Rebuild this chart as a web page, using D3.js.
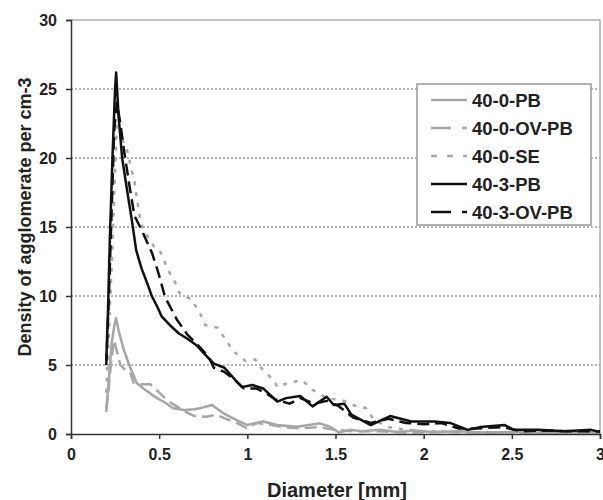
<!DOCTYPE html>
<html><head><meta charset="utf-8">
<script src="https://cdn.jsdelivr.net/npm/d3@7"></script>
<style>body{margin:0;background:#fff}svg{display:block}</style>
</head><body>
<svg id="c" width="603" height="500"></svg>
<script>
const xTicks = [0, 0.5, 1, 1.5, 2, 2.5, 3];
const xTickLabels = ["0", "0.5", "1", "1.5", "2", "2.5", "3"];
const yTicks = [0, 5, 10, 15, 20, 25, 30];
const yTickLabels = ["0", "5", "10", "15", "20", "25", "30"];
const seriesNames = ["40-0-PB", "40-0-OV-PB", "40-0-SE", "40-3-PB", "40-3-OV-PB"];

const s40_0_PB = [[0.2,1.6],[0.215,4],[0.23,6.5],[0.245,7.8],[0.256,8.4],[0.27,7.5],[0.297,6.2],[0.33,5],[0.373,3.7],[0.42,3.2],[0.487,2.6],[0.53,2.3],[0.58,1.86],[0.64,1.74],[0.7,1.8],[0.73,1.86],[0.8,2.1],[0.865,1.5],[0.94,1.0],[1.0,0.65],[1.05,0.8],[1.09,0.9],[1.17,0.65],[1.28,0.53],[1.35,0.65],[1.41,0.77],[1.47,0.53],[1.52,0.1],[1.58,0.3],[1.65,0.2],[1.75,0.3],[1.85,0.15],[1.95,0.25],[2.05,0.15],[2.2,0.2],[2.35,0.1],[2.5,0.15],[2.65,0.1],[2.8,0.1],[3.0,0.1]];
const s40_0_OV_PB = [[0.2,1.8],[0.215,3.5],[0.23,5.5],[0.245,6.8],[0.26,6.0],[0.28,5.0],[0.31,4.6],[0.335,4.5],[0.355,3.7],[0.4,3.6],[0.45,3.6],[0.5,3.0],[0.55,2.4],[0.6,2.0],[0.65,1.6],[0.7,1.3],[0.77,1.25],[0.82,1.4],[0.88,1.1],[0.94,0.8],[1.0,0.4],[1.05,0.8],[1.12,0.7],[1.2,0.5],[1.3,0.4],[1.4,0.5],[1.5,0.3],[1.6,0.2],[1.75,0.2],[1.9,0.1],[2.1,0.15],[2.3,0.1],[2.5,0.1],[2.7,0.1],[3.0,0.1]];
const s40_0_SE = [[0.2,3],[0.23,12],[0.26,22.5],[0.28,22],[0.3,21],[0.32,20.5],[0.34,19.3],[0.36,18.3],[0.39,15.7],[0.41,14.8],[0.47,13.6],[0.5,13.4],[0.55,11.9],[0.59,11],[0.62,10.1],[0.68,9.8],[0.73,8.8],[0.76,7.9],[0.83,7.7],[0.885,6.7],[0.92,6.0],[0.99,5.3],[1.045,5.4],[1.09,4.6],[1.15,3.9],[1.17,3.4],[1.23,3.7],[1.31,3.9],[1.37,3.2],[1.45,2.6],[1.55,2.4],[1.62,2.0],[1.67,1.9],[1.72,1.0],[1.8,0.5],[1.9,0.3],[2.0,0.2],[2.2,0.15],[2.4,0.1],[2.6,0.1],[2.8,0.1],[3.0,0.1]];
const s40_3_PB = [[0.2,5.3],[0.21,9],[0.22,14],[0.235,20],[0.25,25],[0.256,26.2],[0.27,23],[0.29,20],[0.32,17.5],[0.345,15.5],[0.37,13.3],[0.4,12],[0.43,11],[0.458,10],[0.49,9.2],[0.515,8.5],[0.56,7.9],[0.61,7.3],[0.66,6.9],[0.71,6.45],[0.75,5.9],[0.81,5.1],[0.87,4.8],[0.94,3.8],[0.97,3.4],[1.03,3.55],[1.09,3.3],[1.14,2.7],[1.17,2.35],[1.22,2.6],[1.3,2.75],[1.37,2.0],[1.45,2.7],[1.49,2.1],[1.55,2.2],[1.59,1.4],[1.7,0.65],[1.81,1.3],[1.93,0.9],[2.06,0.9],[2.15,0.8],[2.25,0.3],[2.32,0.5],[2.46,0.65],[2.51,0.3],[2.65,0.3],[2.8,0.2],[2.95,0.3],[3.0,0.15]];
const s40_3_OV_PB = [[0.2,5.0],[0.215,10],[0.23,16],[0.245,22],[0.26,24],[0.28,22.5],[0.3,20.6],[0.335,17.7],[0.36,15.8],[0.4,14.8],[0.46,13.1],[0.495,11.7],[0.534,9.9],[0.6,8.3],[0.66,7.2],[0.73,6.3],[0.78,5.6],[0.81,4.8],[0.87,4.5],[0.93,3.9],[0.98,3.3],[1.05,3.3],[1.1,3.0],[1.16,2.5],[1.24,2.2],[1.3,2.6],[1.38,2.2],[1.45,2.4],[1.52,2.0],[1.6,1.2],[1.7,0.8],[1.8,1.1],[1.9,0.8],[2.0,0.7],[2.1,0.8],[2.2,0.4],[2.3,0.4],[2.45,0.5],[2.55,0.2],[2.7,0.25],[2.85,0.2],[3.0,0.2]];

const seriesData = [s40_0_PB, s40_0_OV_PB, s40_0_SE, s40_3_PB, s40_3_OV_PB];
const colors = ["#a6a6a6", "#a6a6a6", "#a6a6a6", "#111", "#111"];
const dashes = [null, "12,6", "4,7", null, "12,6"];
const legendDashes = [null, "20,11", "6,10", null, "20,11"];

const svg = d3.select("#c");
const L = 71, R = 600, T = 20, B = 434;
const x = d3.scaleLinear().domain([0, 3]).range([L, R]);
const y = d3.scaleLinear().domain([0, 30]).range([B, T]);
const FONT = "'Liberation Sans', Arial, sans-serif";

// gridlines
svg.append("g").selectAll("line").data(yTicks.filter(d => d > 0 && d < 30)).join("line")
  .attr("x1", L).attr("x2", R).attr("y1", d => y(d)).attr("y2", d => y(d))
  .attr("stroke", "#666").attr("stroke-width", 1).attr("stroke-dasharray", "2,2");

// frame top/right
svg.append("path").attr("d", `M${L},${T}H${R}V${B}`).attr("fill", "none")
  .attr("stroke", "#b0b0b0").attr("stroke-width", 1.5);

// lines
const line = d3.line().x(d => x(d[0])).y(d => y(d[1]));
const order = [0, 1, 2, 4, 3];
order.forEach(i => {
  svg.append("path").datum(seriesData[i]).attr("d", line)
    .attr("fill", "none").attr("stroke", colors[i]).attr("stroke-width", 2.5)
    .attr("stroke-linejoin", "round")
    .attr("stroke-dasharray", dashes[i]);
});

// axes
const xAxis = d3.axisBottom(x).tickValues(xTicks).tickFormat((d, i) => xTickLabels[i]).tickSizeOuter(0).tickSize(5).tickPadding(10);
const gx = svg.append("g").attr("transform", `translate(0,${B})`).call(xAxis);
const yAxis = d3.axisLeft(y).tickValues(yTicks).tickFormat((d, i) => yTickLabels[i]).tickSizeOuter(0).tickSize(5).tickPadding(9);
const gy = svg.append("g").attr("transform", `translate(${L},0)`).call(yAxis);
[gx, gy].forEach(g => {
  g.select(".domain").attr("stroke", "#333").attr("stroke-width", 1.5);
  g.selectAll(".tick line").attr("stroke", "#333").attr("stroke-width", 1.5);
  g.selectAll(".tick text").attr("fill", "#222").style("font-family", FONT)
    .style("font-size", "16px").style("font-weight", "bold");
});

// axis titles
svg.append("text").attr("x", 337).attr("y", 497).attr("text-anchor", "middle")
  .style("font-family", FONT).style("font-size", "20px").style("font-weight", "bold")
  .attr("fill", "#222").text("Diameter [mm]");
svg.append("text").attr("transform", "translate(31,217) rotate(-90)").attr("text-anchor", "middle")
  .style("font-family", FONT).style("font-size", "18px").style("font-weight", "bold")
  .attr("fill", "#222").text("Density of agglomerate per cm-3");

// legend
const lg = svg.append("g");
lg.append("rect").attr("x", 417).attr("y", 84).attr("width", 174).attr("height", 141)
  .attr("fill", "#fff").attr("stroke", "#999").attr("stroke-width", 1.5);
const ly = d3.scalePoint().domain(seriesNames).range([100, 212]);
seriesNames.forEach((n, i) => {
  lg.append("line").attr("x1", 431).attr("x2", 467).attr("y1", ly(n)).attr("y2", ly(n))
    .attr("stroke", colors[i]).attr("stroke-width", 2.5).attr("stroke-dasharray", legendDashes[i]);
  lg.append("text").attr("x", 472).attr("y", ly(n)).attr("dy", "0.36em")
    .style("font-family", FONT).style("font-size", "18.5px").style("font-weight", "bold")
    .attr("fill", "#222").text(n);
});
</script>
</body></html>
